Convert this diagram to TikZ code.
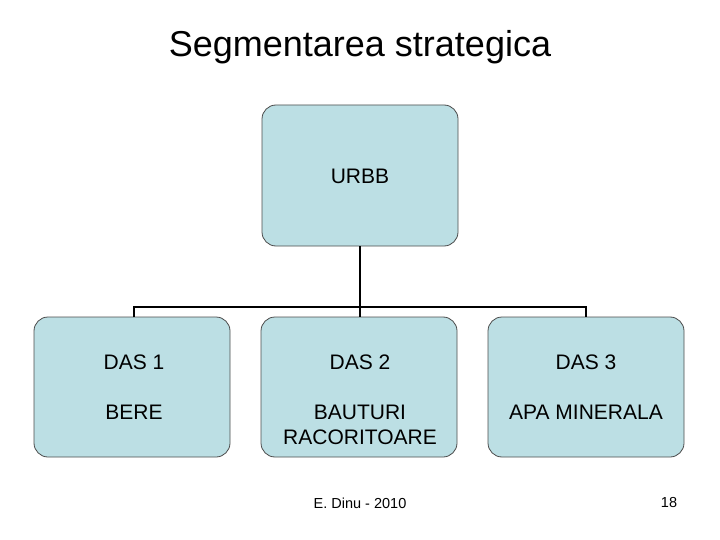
\documentclass[tikz,border=0pt]{standalone}
\usepackage{fontspec}
\setmainfont{Liberation Sans}
\begin{document}
\begin{tikzpicture}[x=1pt,y=-1pt,
  box/.style={draw=black!70,line width=0.8pt,fill=boxblue,rounded corners=14pt,minimum width=196pt,minimum height=141pt,inner sep=0pt},
  conn/.style={draw=black,line width=2.6pt},
  lbl/.style={font=\fontsize{21}{25}\selectfont,align=center}]
\definecolor{boxblue}{HTML}{BCDFE4}
\useasboundingbox (0,0) rectangle (720,540);
\node (title) at (360,47) {\fontsize{36}{40}\selectfont Segmentarea strategica};
\node[box] (top) at (360,175.5) {};
\node[box,minimum height=140pt] (d1) at (132,387) {};
\node[box,minimum height=140pt] (d2) at (359,387) {};
\node[box,minimum height=140pt] (d3) at (586,387) {};
\node[lbl] (t0) at (360,176) {URBB};
\node[lbl] (a1) at (134,362) {DAS 1};
\node[lbl] (a2) at (360,362) {DAS 2};
\node[lbl] (a3) at (586,362) {DAS 3};
\node[lbl] (b1) at (134,412) {BERE};
\node[lbl] (b2) at (360,425) {BAUTURI\\RACORITOARE};
\node[lbl] (b3) at (586,412) {APA MINERALA};
\coordinate (j) at (360,307);
\draw[conn] (top.south) -- (j);
\draw[conn] (134,317) |- (j) -| (586,317);
\draw[conn] (j) -- (360,317);
\node (f) at (360,503) {\fontsize{14.5}{17}\selectfont E. Dinu - 2010};
\node (n) at (669,503) {\fontsize{14.5}{17}\selectfont 18};
\end{tikzpicture}
\end{document}
